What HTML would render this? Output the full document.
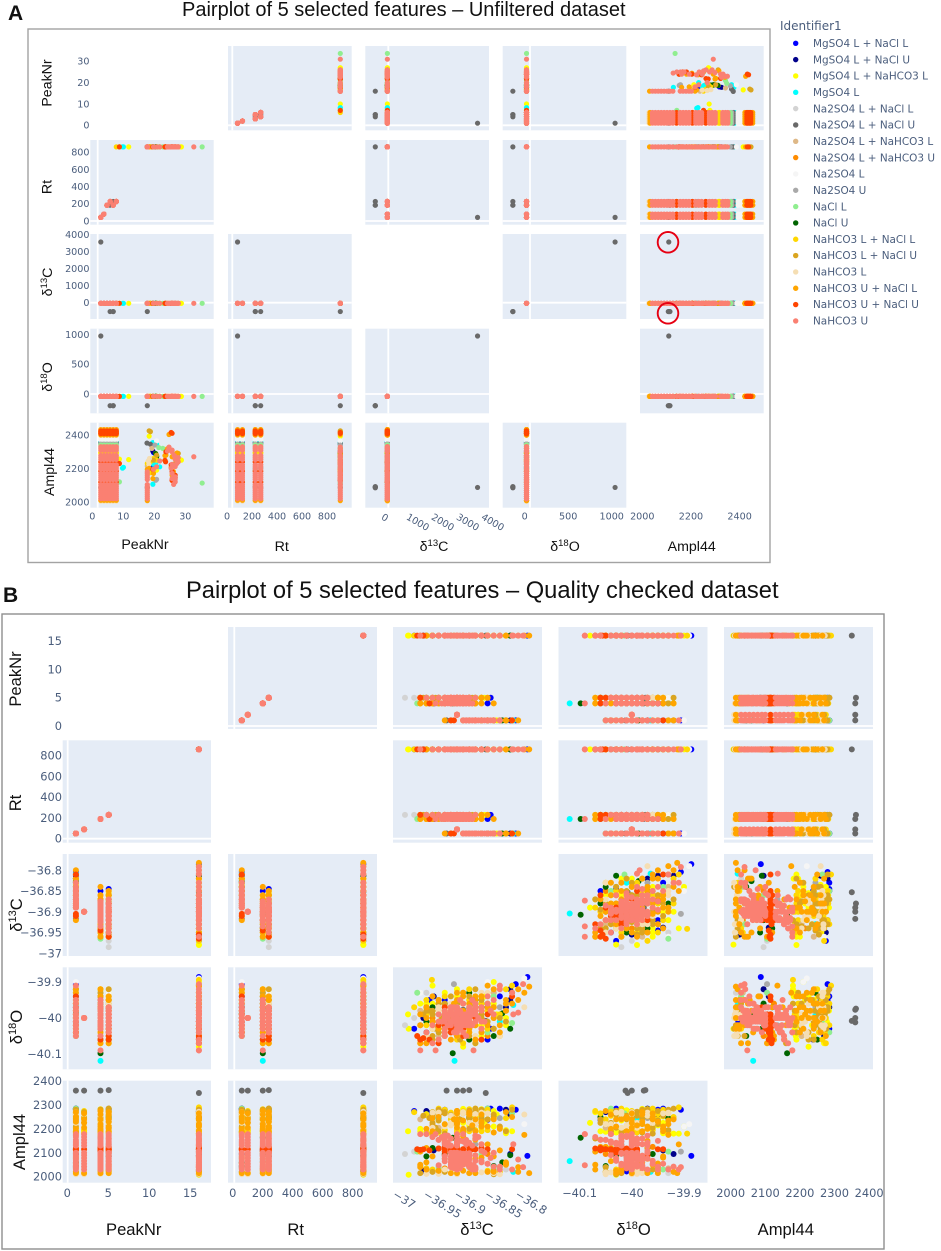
<!DOCTYPE html>
<html lang="en">
<head>
<meta charset="utf-8">
<title>Pairplots of 5 selected features</title>
<style>
html,body{margin:0;padding:0;background:#fff}
svg{display:block}
.ttl{font-family:"Liberation Sans",sans-serif;fill:#111}
.axt{font-family:"Liberation Sans",sans-serif;fill:#111;text-anchor:middle}
.tick{font-family:"DejaVu Sans",sans-serif;fill:#4a5d7c}
.leg{font-family:"DejaVu Sans",sans-serif;fill:#4a5d7c}
</style>
</head>
<body>
<svg id="chart" xmlns="http://www.w3.org/2000/svg" width="941" height="1251" viewBox="0 0 941 1251">
<rect width="941" height="1251" fill="#fff"/>
<text class="ttl" x="8" y="20" font-size="21" font-weight="bold">A</text>
<text class="ttl" x="182" y="16" font-size="20">Pairplot of 5 selected features – Unfiltered dataset</text>
<rect x="28" y="29" width="742" height="533.5" fill="#fff" stroke="#a3a3a3" stroke-width="1.4"/>
<text class="ttl" x="3" y="602" font-size="21" font-weight="bold">B</text>
<text class="ttl" x="186" y="598" font-size="23.7">Pairplot of 5 selected features – Quality checked dataset</text>
<rect x="2" y="614" width="882" height="635" fill="#fff" stroke="#8f8f8f" stroke-width="1.4"/>
<g id="gA"></g>
<g id="gB"></g>
<g font-size="14.2">
<text class="axt" transform="translate(51.5,83) rotate(-90)">PeakNr</text>
<text class="axt" transform="translate(51.5,187) rotate(-90)">Rt</text>
<text class="axt" transform="translate(52,282) rotate(-90)">δ<tspan dy="-5" font-size="9.5">13</tspan><tspan dy="5">C</tspan></text>
<text class="axt" transform="translate(52,377) rotate(-90)">δ<tspan dy="-5" font-size="9.5">18</tspan><tspan dy="5">O</tspan></text>
<text class="axt" transform="translate(54,472) rotate(-90)">Ampl44</text>
</g>
<g font-size="14.2">
<text class="axt" x="145" y="549">PeakNr</text>
<text class="axt" x="281.7" y="551">Rt</text>
<text class="axt" x="434" y="551">δ<tspan dy="-5" font-size="9.5">13</tspan><tspan dy="5">C</tspan></text>
<text class="axt" x="565" y="551">δ<tspan dy="-5" font-size="9.5">18</tspan><tspan dy="5">O</tspan></text>
<text class="axt" x="691.7" y="551">Ampl44</text>
</g>
<g font-size="16.6">
<text class="axt" transform="translate(21,679) rotate(-90)">PeakNr</text>
<text class="axt" transform="translate(21,803) rotate(-90)">Rt</text>
<text class="axt" transform="translate(22,915) rotate(-90)">δ<tspan dy="-6" font-size="11">13</tspan><tspan dy="6">C</tspan></text>
<text class="axt" transform="translate(22,1027) rotate(-90)">δ<tspan dy="-6" font-size="11">18</tspan><tspan dy="6">O</tspan></text>
<text class="axt" transform="translate(25,1142) rotate(-90)">Ampl44</text>
</g>
<g font-size="16.6">
<text class="axt" x="133.7" y="1235">PeakNr</text>
<text class="axt" x="295.7" y="1235">Rt</text>
<text class="axt" x="477" y="1235">δ<tspan dy="-6" font-size="11">13</tspan><tspan dy="6">C</tspan></text>
<text class="axt" x="633.6" y="1235">δ<tspan dy="-6" font-size="11">18</tspan><tspan dy="6">O</tspan></text>
<text class="axt" x="785.8" y="1235">Ampl44</text>
</g>
<g id="legend"></g>
<circle cx="668" cy="242.3" r="10.3" fill="none" stroke="#e60012" stroke-width="1.9"/>
<circle cx="668" cy="313.3" r="10.3" fill="none" stroke="#e60012" stroke-width="1.9"/>
</svg>
<script>
/* ---------- legend categories ---------- */
const seriesNames = ["MgSO4 L + NaCl L","MgSO4 L + NaCl U","MgSO4 L + NaHCO3 L","MgSO4 L","Na2SO4 L + NaCl L","Na2SO4 L + NaCl U","Na2SO4 L + NaHCO3 L","Na2SO4 L + NaHCO3 U","Na2SO4 L","Na2SO4 U","NaCl L","NaCl U","NaHCO3 L + NaCl L","NaHCO3 L + NaCl U","NaHCO3 L","NaHCO3 U + NaCl L","NaHCO3 U + NaCl U","NaHCO3 U"];
const seriesColors = ["#0000ff","#00008b","#ffff00","#00ffff","#d3d3d3","#696969","#deb887","#ff8c00","#f5f5f5","#a9a9a9","#90ee90","#006400","#ffd700","#daa520","#f5deb3","#ffa500","#ff4500","#fa8072"];

/* ---------- panel A values (unfiltered) ---------- */
const aNormalD13C = -37;
const aNormalD18O = -40;
const aBandPeakNr = [1,2,3,5,4,6];
const aBandRt = [42,81,184,184,227,227];
const aBandSalmon = [2020,2032,2044,2056,2068,2080,2092,2104,2134,2146,2158,2170,2198,2210,2222,2254,2266,2278,2309,2320,2330];
const aBandRed = [2119,2184,2239,2408,2416,2424];
const aBandOrange = [2010,2400,2420,2432];
const aBandDarkOrange = [2410];
const aBandYellow = [2291];
const aBandGold = [2296];
const aBandGreen = [2340];
const aBandDimGray = [2352];
const aBandDarkGray = [2346];
const aBandCyan = [2358];
const aBandWhite = [2372,2385];
const aBandWheat = [2006];
const aPeak16Salmon = [2020,2032,2044,2056,2068,2080,2092,2104,2134,2146,2158,2170,2180];
const aPeak16Orange = [2008,2195];
/* peak number, retention time, Ampl44 */
const aScatterSalmon = [[31,864,2270],[24,864,2140],[24,864,2171],[23.7,864,2201],[24.7,864,2277],[25,864,2255],[26,864,2240],[25.5,864,2230],[26,864,2265],[25,864,2212],[23,864,2318],[22.5,864,2304],[24,864,2300],[25,864,2120],[24.5,864,2105],[25,864,2135],[18,864,2195],[19,864,2210],[20,864,2245],[24,864,2310],[23,864,2328],[24,864,2225],[25,864,2150]];
const aScatterRed = [[24,864,2129],[24,864,2182],[23.7,864,2222],[21.7,864,2249],[23.7,864,2415],[24,864,2410],[7,864,2230],[25,864,2160],[25,864,2145],[22,864,2300],[17.8,864,2195],[21.9,864,2240],[24,864,2130]];
const aScatterOrange = [[24,864,2160],[24.4,864,2182],[23.7,864,2208],[25.6,864,2293],[23,864,2403],[21.7,864,2277],[22.5,864,2318],[17.8,864,2140],[18,864,2171],[16.6,864,2201],[24,864,2270],[22,864,2280]];
const aScatterYellow = [[26.8,864,2252],[10,864,2253],[7,864,2256],[16.6,864,2393],[18.7,864,2290],[27,864,2250],[19,864,2190]];
const aScatterGold = [[16,864,2230],[17,864,2240],[18,864,2260],[19,864,2250],[20,864,2245],[6,864,2250],[17,864,2175]];
const aScatterGoldenrod = [[17,864,2420],[16.6,864,2425],[26,864,2290],[25,864,2230],[18,864,2250],[19,864,2280]];
const aScatterCyan = [[17.8,864,2106],[18.7,864,2232],[8,864,2202],[8.3,864,2207],[19,864,2345],[17.8,864,2355],[3,184,2200],[4,227,2205],[18,864,2225],[20,864,2210]];
const aScatterBlue = [[17.8,864,2208],[18,864,2295]];
const aScatterNavy = [[17.8,864,2304]];
const aScatterDarkGreen = [[18.7,864,2267],[18.7,864,2289],[19,864,2270],[19,864,2275],[18.9,864,2260]];
const aScatterGreen = [[33.7,864,2113],[7,864,2120],[19.7,864,2325],[21,864,2320],[6,227,2120],[5,184,2190]];
const aScatterDimGray = [[15.9,864,2352],[17,864,2345]];
const aScatterTan = [[16.6,864,2239],[17,864,2250],[17.5,864,2320],[16,864,2215]];
const aScatterDarkGray = [[18.7,864,2130],[19,864,2135],[18.5,864,2340]];
const aScatterWhite = [[19,864,2365]];
const aScatterWheat = [[16.3,864,2245],[16.5,864,2225],[16.7,864,2260]];
/* peak, rt, d13C, d18O, Ampl44 for the dim-gray outliers */
const aOutliers = [[1,42,3570,978,2087],[4,184,-520,-197,2090],[5,227,-520,-197,2085],[16,864,-520,-197,2087],[5,184,-520,-197,2092]];

/* ---------- panel B values (quality checked): peak, d13C, d18O, Ampl44 ---------- */
const bRtPeaks = [1,2,4,5,16];
const bRtValues = [50,90,190,230,860];
const bBlue = [[16,-36.785,-39.886,2087],[1,-36.804,-39.906,2280],[16,-36.97,-40.03,2275],[4,-36.945,-39.95,2265],[5,-36.845,-40.03,2285],[16,-36.94,-40.01,2022],[4,-36.85,-40.06,2238],[1,-36.83,-39.94,2285],[5,-36.92,-39.95,2280],[16,-36.86,-39.96,2272]];
const bNavy = [[16,-36.955,-40,2025],[1,-36.813,-39.92,2095],[4,-36.938,-39.94,2110],[16,-36.813,-39.95,2260],[5,-36.9,-40.05,2270],[1,-36.82,-39.97,2280],[16,-36.95,-40.04,2275],[16,-36.87,-39.95,2272],[1,-36.85,-39.97,2285]];
const bYellow = [[16,-36.979,-40.03,2008],[16,-36.98,-39.99,2190],[16,-36.94,-39.91,2180],[4,-36.96,-39.96,2200],[5,-36.855,-39.94,2225],[1,-36.81,-39.93,2190],[16,-36.84,-39.9,2210],[4,-36.87,-40.07,2270],[5,-36.88,-39.95,2215],[1,-36.86,-40.05,2205],[16,-36.86,-39.97,2282],[4,-36.93,-40.02,2235],[5,-36.92,-39.93,2270],[16,-36.89,-40.08,2225],[1,-36.835,-39.99,2260],[4,-36.9,-39.92,2180],[5,-36.96,-40.06,2190],[16,-36.82,-40.02,2195],[16,-36.93,-40.03,2185],[4,-36.94,-39.96,2270],[5,-36.86,-40.02,2275],[1,-36.84,-39.96,2245],[16,-36.84,-39.93,2275],[4,-36.89,-40.05,2188],[5,-36.9,-39.94,2182],[1,-36.82,-40,2182],[16,-36.95,-39.96,2262],[4,-36.92,-40.01,2278],[5,-36.89,-39.98,2284],[1,-36.86,-40.02,2270],[16,-36.87,-39.94,2252]];
const bCyan = [[4,-36.904,-40.119,2065],[1,-36.808,-39.964,2020],[5,-36.86,-40,2250],[4,-36.93,-39.99,2245],[16,-36.91,-40.04,2120],[5,-36.93,-40.02,2245],[1,-36.83,-40.01,2040]];
const bLightGray = [[5,-36.985,-40.02,2095],[5,-36.97,-40,2105],[16,-36.82,-39.96,2030],[4,-36.95,-39.93,2015]];
const bDimGray = [[1,-36.917,-40.012,2360],[2,-36.9,-40,2360],[4,-36.89,-39.977,2360],[5,-36.88,-39.974,2362],[16,-36.853,-40.008,2350]];
const bTan = [[5,-36.96,-39.98,2240],[4,-36.93,-40.05,2205],[1,-36.84,-39.93,2035],[16,-36.88,-40.02,2245]];
const bDarkOrange = [[16,-36.9,-39.96,2125],[4,-36.92,-40.01,2035],[5,-36.94,-40,2215],[16,-36.85,-40.05,2095]];
const bWhite = [[16,-36.79,-39.89,2220],[5,-36.96,-39.93,2270],[1,-36.85,-39.9,2210]];
const bDarkGray = [[16,-36.905,-39.906,2105],[5,-36.87,-40.02,2135],[4,-36.9,-39.98,2030],[16,-36.83,-39.97,2245]];
const bLightGreen = [[16,-36.81,-40.014,2265],[4,-36.965,-39.93,2105],[5,-36.86,-39.96,2095],[1,-36.85,-40.04,2285],[16,-36.84,-39.94,2030],[4,-36.93,-39.98,2040]];
const bDarkGreen = [[4,-36.907,-40.098,2163],[1,-36.826,-39.987,2060],[16,-36.813,-40.03,2090],[5,-36.95,-40.01,2085],[16,-36.94,-39.97,2120],[1,-36.84,-40.05,2045],[4,-36.92,-39.96,2095],[5,-36.88,-40.06,2250],[16,-36.88,-39.93,2245]];
const bGold = [[16,-36.941,-39.894,2180],[16,-36.81,-39.91,2290],[4,-36.95,-39.99,2185],[5,-36.93,-39.96,2285],[1,-36.88,-40.04,2190],[16,-36.86,-39.95,2240],[4,-36.88,-39.92,2250],[5,-36.89,-40.07,2275],[1,-36.82,-39.92,2245],[16,-36.92,-40.02,2195],[4,-36.9,-40.06,2265],[5,-36.86,-40,2190],[1,-36.85,-39.98,2280],[16,-36.83,-40.05,2020],[4,-36.94,-40.03,2025],[5,-36.95,-39.95,2035],[16,-36.97,-39.97,2270],[16,-36.94,-39.99,2265],[16,-36.9,-40.05,2240],[16,-36.87,-40.02,2285],[16,-36.85,-39.96,2195],[4,-36.92,-39.94,2280],[4,-36.87,-39.99,2195],[5,-36.9,-40.01,2255],[5,-36.87,-39.96,2250],[1,-36.86,-39.96,2255],[1,-36.83,-39.99,2205],[16,-36.89,-39.96,2270],[4,-36.91,-40,2240],[16,-36.91,-39.98,2268],[4,-36.95,-40.02,2258],[5,-36.92,-40.04,2272],[1,-36.88,-39.95,2262],[16,-36.86,-40.04,2255],[4,-36.88,-39.97,2282],[16,-36.94,-40.03,2030],[5,-36.85,-40.03,2025]];
const bGoldenrod = [[16,-36.94,-40.06,2225],[4,-36.945,-39.98,2245],[5,-36.92,-39.99,2265],[1,-36.87,-39.95,2275],[16,-36.86,-40,2245],[4,-36.905,-40.04,2225],[5,-36.875,-39.96,2205],[1,-36.84,-40.03,2260],[16,-36.91,-39.94,2255],[4,-36.925,-40,2270],[5,-36.895,-40.06,2240],[1,-36.81,-39.93,2280],[16,-36.89,-40.02,2265],[4,-36.89,-39.93,2195],[5,-36.935,-40.03,2205],[1,-36.86,-39.99,2225],[16,-36.84,-40.03,2010],[4,-36.96,-40.02,2015],[5,-36.87,-39.92,2285],[16,-36.87,-40.07,2160],[4,-36.86,-39.97,2280],[5,-36.955,-39.99,2255],[16,-36.93,-39.95,2235],[1,-36.82,-40.01,2190],[16,-36.93,-39.98,2280],[16,-36.9,-40.03,2275],[16,-36.87,-39.97,2265],[16,-36.85,-40.01,2240],[16,-36.94,-40.01,2255],[16,-36.88,-39.94,2200],[16,-36.92,-39.96,2180],[4,-36.94,-39.99,2270],[4,-36.9,-39.96,2260],[4,-36.88,-40.01,2250],[4,-36.87,-39.95,2220],[4,-36.93,-40.04,2190],[5,-36.9,-39.97,2275],[5,-36.88,-40.02,2245],[5,-36.86,-39.95,2230],[5,-36.94,-39.98,2185],[1,-36.88,-39.98,2270],[1,-36.85,-39.96,2240],[1,-36.83,-40,2210],[1,-36.89,-40.02,2185],[16,-36.92,-40.03,2270],[16,-36.88,-40,2258],[4,-36.93,-39.96,2262],[4,-36.88,-40.03,2276],[5,-36.91,-40,2258],[5,-36.87,-39.99,2272],[1,-36.86,-40,2266],[1,-36.84,-39.97,2252],[16,-36.95,-39.98,2030],[16,-36.84,-40,2025],[4,-36.92,-40.03,2020],[5,-36.9,-39.96,2030],[16,-36.88,-40.05,2040],[5,-36.94,-40.05,2020]];
const bWheat = [[16,-36.79,-39.97,2260],[1,-36.83,-40.05,2010],[4,-36.95,-40.05,2012],[5,-36.93,-39.98,2015],[16,-36.93,-39.99,2012],[1,-36.87,-39.96,2225],[4,-36.9,-39.99,2205],[5,-36.89,-39.94,2265],[16,-36.86,-39.93,2268],[4,-36.91,-40.04,2220],[5,-36.92,-40.01,2210],[1,-36.85,-39.93,2265],[16,-36.91,-40.01,2215],[4,-36.87,-39.98,2262],[5,-36.87,-40.05,2220],[16,-36.94,-40.02,2205],[16,-36.9,-39.97,2262],[16,-36.87,-40,2225],[4,-36.93,-39.97,2268],[5,-36.91,-39.96,2225],[5,-36.94,-40.03,2268],[1,-36.87,-40.02,2262],[4,-36.88,-39.99,2225],[16,-36.92,-39.99,2030],[16,-36.9,-40.02,2272],[4,-36.91,-39.97,2255],[5,-36.88,-39.96,2262],[1,-36.89,-40,2270],[16,-36.84,-39.99,2015],[4,-36.86,-40.04,2018],[5,-36.9,-40.05,2018]];
const bOrange = [[16,-36.782,-39.913,2015],[16,-36.79,-39.93,2175],[16,-36.8,-39.95,2040],[16,-36.82,-39.98,2060],[16,-36.83,-40.02,2110],[16,-36.85,-39.91,2135],[16,-36.87,-40.06,2155],[16,-36.9,-39.93,2220],[16,-36.93,-40.01,2250],[16,-36.95,-40.07,2030],[1,-36.8,-39.92,2020],[1,-36.81,-39.96,2250],[1,-36.83,-40.04,2200],[1,-36.86,-39.98,2230],[1,-36.91,-40.04,2120],[1,-36.92,-40.03,2075],[4,-36.84,-39.92,2240],[4,-36.86,-39.94,2210],[4,-36.88,-40.04,2260],[4,-36.91,-39.97,2015],[4,-36.94,-40.01,2190],[4,-36.96,-40.07,2105],[5,-36.86,-39.98,2260],[5,-36.88,-40.03,2015],[5,-36.9,-39.95,2230],[5,-36.92,-40.05,2110],[5,-36.95,-39.97,2200],[5,-36.96,-40.07,2050],[4,-36.87,-40,2030],[16,-36.89,-39.98,2190],[16,-36.89,-40.02,2025],[16,-36.905,-39.96,2240],[16,-36.875,-39.99,2215],[16,-36.92,-40.05,2125],[16,-36.84,-39.97,2020],[16,-36.94,-39.94,2085],[16,-36.86,-40.03,2210],[16,-36.88,-39.96,2265],[1,-36.87,-39.95,2015],[1,-36.89,-39.93,2235],[1,-36.84,-40,2185],[1,-36.82,-39.98,2270],[1,-36.85,-40.02,2020],[4,-36.89,-39.94,2200],[4,-36.92,-39.98,2220],[4,-36.9,-40.05,2275],[4,-36.93,-40.03,2025],[4,-36.87,-40.02,2240],[4,-36.95,-39.97,2120],[5,-36.87,-39.94,2190],[5,-36.9,-40.03,2240],[5,-36.93,-39.95,2025],[5,-36.88,-39.98,2270],[5,-36.91,-40.06,2125],[5,-36.94,-40.01,2245],[5,-36.85,-39.97,2210],[16,-36.96,-40.02,2040],[16,-36.82,-39.96,2050],[16,-36.86,-39.94,2080],[4,-36.95,-40,2060],[4,-36.87,-39.97,2075],[5,-36.96,-39.99,2045],[5,-36.86,-40.04,2065],[1,-36.82,-39.95,2055],[1,-36.84,-39.99,2085],[16,-36.92,-39.97,2150],[4,-36.89,-40.01,2170],[5,-36.91,-40.02,2160]];
const bRed = [[16,-36.965,-40.05,2115],[16,-36.955,-40.056,2115],[16,-36.93,-40.07,2118],[16,-36.91,-40.03,2112],[16,-36.88,-40.01,2115],[16,-36.86,-40.06,2120],[1,-36.81,-39.94,2115],[1,-36.905,-40.02,2118],[1,-36.91,-40.04,2110],[1,-36.85,-39.99,2115],[4,-36.875,-39.95,2115],[4,-36.945,-40.06,2110],[4,-36.91,-40.01,2118],[4,-36.89,-40.03,2115],[5,-36.96,-40.06,2112],[5,-36.93,-40.02,2118],[5,-36.9,-39.99,2115],[5,-36.89,-40.05,2115],[16,-36.9,-40.02,2130],[4,-36.92,-39.97,2090],[5,-36.91,-40.01,2100],[16,-36.9,-40.01,2115],[16,-36.89,-40.03,2100],[4,-36.9,-40.02,2115],[4,-36.92,-40.02,2125],[5,-36.92,-40.04,2115],[5,-36.88,-40.02,2125],[1,-36.87,-40,2115],[16,-36.92,-39.99,2105],[4,-36.9,-39.99,2105],[5,-36.9,-40.03,2105]];
const bSalmon = [[1,-36.83,-39.91,2030],[1,-36.84,-39.95,2042],[1,-36.85,-39.96,2054],[1,-36.86,-40.03,2066],[1,-36.845,-39.98,2078],[1,-36.87,-39.99,2090],[1,-36.855,-40.01,2100],[1,-36.875,-40.02,2130],[1,-36.88,-39.97,2142],[1,-36.885,-40.05,2154],[1,-36.865,-40,2166],[1,-36.89,-40.04,2178],
[4,-36.875,-39.95,2030],[4,-36.88,-39.98,2042],[4,-36.885,-40.01,2054],[4,-36.89,-39.96,2066],[4,-36.895,-40.03,2078],[4,-36.9,-40,2090],[4,-36.905,-39.97,2100],[4,-36.91,-40.02,2130],[4,-36.915,-39.99,2142],[4,-36.92,-40.05,2154],[4,-36.925,-40.01,2166],[4,-36.935,-40.09,2178],[4,-36.895,-39.99,2072],[4,-36.905,-40.01,2036],[4,-36.89,-40.02,2148],
[5,-36.87,-39.97,2030],[5,-36.88,-39.99,2042],[5,-36.89,-40.02,2054],[5,-36.895,-39.98,2066],[5,-36.9,-40.01,2078],[5,-36.905,-40.04,2090],[5,-36.91,-39.97,2100],[5,-36.915,-40,2130],[5,-36.92,-40.03,2142],[5,-36.93,-39.99,2154],[5,-36.94,-40.02,2166],[5,-36.95,-40.04,2178],[5,-36.9,-39.99,2048],[5,-36.885,-40,2136],[5,-36.91,-40.01,2060],
[16,-36.81,-39.93,2030],[16,-36.83,-39.92,2042],[16,-36.85,-39.94,2054],[16,-36.87,-39.96,2066],[16,-36.88,-39.98,2078],[16,-36.89,-40,2090],[16,-36.9,-40.02,2100],[16,-36.91,-39.97,2130],[16,-36.92,-40.04,2142],[16,-36.93,-40.06,2154],[16,-36.94,-40.07,2166],[16,-36.96,-40.09,2178],[16,-36.84,-39.99,2100],[16,-36.86,-40.01,2060],[16,-36.895,-39.95,2150],[16,-36.792,-39.906,2040],[16,-36.8,-39.985,2072],[16,-36.808,-39.99,2136],[16,-36.873,-40.09,2048],[16,-36.9,-39.99,2084],
[4,-36.9,-39.98,2036],[4,-36.895,-40.02,2048],[4,-36.905,-40,2060],[4,-36.91,-39.99,2084],[4,-36.885,-39.99,2096],[4,-36.9,-40.03,2136],[4,-36.92,-40,2160],[5,-36.895,-40,2036],[5,-36.905,-39.99,2072],[5,-36.88,-40.01,2084],[5,-36.89,-39.99,2096],[5,-36.9,-40.02,2148],[5,-36.91,-39.98,2160],[5,-36.92,-40.01,2172],[16,-36.9,-40,2036],[16,-36.895,-39.98,2048],[16,-36.885,-40.01,2060],[16,-36.91,-40.01,2072],[16,-36.905,-39.99,2084],[16,-36.88,-40.02,2096],[16,-36.92,-39.99,2136],[16,-36.9,-40.04,2148],[16,-36.87,-39.99,2160],[16,-36.915,-40.02,2172],[16,-36.93,-40.01,2048],[16,-36.86,-39.97,2108],[1,-36.87,-40.01,2036],[1,-36.875,-39.99,2048],[1,-36.88,-40,2072],[1,-36.885,-40.02,2096],[1,-36.86,-39.98,2136],[1,-36.89,-40,2148],[1,-36.87,-39.97,2172],
[4,-36.91,-40.01,2044],[4,-36.89,-39.99,2050],[4,-36.9,-40.01,2062],[4,-36.885,-40,2074],[4,-36.92,-39.98,2086],[4,-36.88,-40.02,2098],[5,-36.9,-40,2040],[5,-36.91,-39.99,2052],[5,-36.89,-40.01,2064],[5,-36.92,-40,2076],[5,-36.88,-39.98,2088],[5,-36.895,-40.02,2098],[16,-36.91,-39.98,2040],[16,-36.89,-40.01,2052],[16,-36.92,-40,2064],[16,-36.9,-39.97,2076],[16,-36.88,-40,2088],[16,-36.875,-39.98,2044],[16,-36.9,-40.03,2070],[1,-36.87,-39.98,2040],[1,-36.88,-40.01,2058],[1,-36.885,-39.99,2082]];
/* Ampl44 of the peak-2 samples, which all share one isotope reading */
const bPeak2D13C = -36.9;
const bPeak2D18O = -40;
const bPeak2Salmon = [2030,2042,2054,2066,2078,2090,2100,2130,2142,2154,2166,2178];
const bPeak2Red = [2115];
const bPeak2Orange = [2015,2240,2205,2225,2265];
const bPeak2Gold = [2186,2250,2195,2275];
const bPeak2Goldenrod = [2228,2270,2245];
const bPeak2Wheat = [2010,2212,2262,2235,2020];
const bPeak2Yellow = [2195,2182];

/* ---------- tick labels ---------- */
const aPeakXTicks = [0,10,20,30];
const aPeakYTicks = [0,10,20,30];
const aRtTicks = [0,200,400,600,800];
const aD13Ticks = [0,1000,2000,3000,4000];
const aD18XTicks = [0,500,1000];
const aD18YTicks = [0,500,1000];
const aAmplXTicks = [2000,2200,2400];
const aAmplYTicks = [2000,2200,2400];
const bPeakXTicks = [0,5,10,15];
const bPeakYTicks = [0,5,10,15];
const bRtTicks = [0,200,400,600,800];
const bD13Ticks = [-37,-36.95,-36.9,-36.85,-36.8];
const bD18Ticks = [-40.1,-40,-39.9];
const bAmplTicks = [2000,2100,2200,2300,2400];

/* ---------- helpers ---------- */
const SVGNS = "http://www.w3.org/2000/svg";
function mk(tag, attrs){
  const e = document.createElementNS(SVGNS, tag);
  for (const k in attrs) e.setAttribute(k, attrs[k]);
  return e;
}
function linear(refValue, refPixel, pxPerUnit){
  return v => refPixel + (v - refValue) * pxPerUnit;
}
function fmt(v){ return String(v).replace("-", "\u2212"); }

/* ---------- assemble panel A records ---------- */
const aRecords = [];
function addBand(series, ampls){
  aBandPeakNr.forEach((p, i) => ampls.forEach(v => aRecords.push({s:series, peak:p, rt:aBandRt[i], d13:aNormalD13C, d18:aNormalD18O, amp:v})));
}
function addPeak16(series, ampls){
  ampls.forEach(v => aRecords.push({s:series, peak:16, rt:864, d13:aNormalD13C, d18:aNormalD18O, amp:v}));
}
function addScatter(series, rows){
  rows.forEach(r => aRecords.push({s:series, peak:r[0], rt:r[1], d13:aNormalD13C, d18:aNormalD18O, amp:r[2]}));
}
addBand(17, aBandSalmon); addBand(16, aBandRed); addBand(15, aBandOrange); addBand(7, aBandDarkOrange);
addBand(2, aBandYellow); addBand(12, aBandGold); addBand(10, aBandGreen); addBand(5, aBandDimGray);
addBand(9, aBandDarkGray); addBand(3, aBandCyan); addBand(8, aBandWhite); addBand(14, aBandWheat);
addPeak16(17, aPeak16Salmon); addPeak16(15, aPeak16Orange);
addScatter(17, aScatterSalmon); addScatter(16, aScatterRed); addScatter(15, aScatterOrange); addScatter(2, aScatterYellow);
addScatter(12, aScatterGold); addScatter(13, aScatterGoldenrod); addScatter(3, aScatterCyan); addScatter(0, aScatterBlue);
addScatter(1, aScatterNavy); addScatter(11, aScatterDarkGreen); addScatter(10, aScatterGreen); addScatter(5, aScatterDimGray);
addScatter(6, aScatterTan); addScatter(9, aScatterDarkGray); addScatter(8, aScatterWhite); addScatter(14, aScatterWheat);
aOutliers.forEach(r => aRecords.push({s:5, peak:r[0], rt:r[1], d13:r[2], d18:r[3], amp:r[4]}));

/* ---------- assemble panel B records ---------- */
const bRecords = [];
function addB(series, rows){
  rows.forEach(r => bRecords.push({s:series, peak:r[0], rt:bRtValues[bRtPeaks.indexOf(r[0])], d13:r[1], d18:r[2], amp:r[3]}));
}
function addBPeak2(series, ampls){
  ampls.forEach(v => bRecords.push({s:series, peak:2, rt:bRtValues[bRtPeaks.indexOf(2)], d13:bPeak2D13C, d18:bPeak2D18O, amp:v}));
}
[bBlue,bNavy,bYellow,bCyan,bLightGray,bDimGray,bTan,bDarkOrange,bWhite,bDarkGray,bLightGreen,bDarkGreen,bGold,bGoldenrod,bWheat,bOrange,bRed,bSalmon].forEach((rows, i) => addB(i, rows));
addBPeak2(17, bPeak2Salmon); addBPeak2(16, bPeak2Red); addBPeak2(15, bPeak2Orange); addBPeak2(12, bPeak2Gold);
addBPeak2(13, bPeak2Goldenrod); addBPeak2(14, bPeak2Wheat); addBPeak2(2, bPeak2Yellow);

/* ---------- grid drawing ---------- */
const FEATURES = ["peak","rt","d13","d18","amp"];
function drawGrid(host, cfg){
  const recs = cfg.records.slice().sort((a, b) => a.s - b.s);
  cfg.rows.forEach((row, ri) => {
    cfg.cols.forEach((col, ci) => {
      if (ri === ci) return;
      const bg = mk("rect", {x:col.x0, y:row.y0, width:col.x1-col.x0, height:row.y1-row.y0, fill:"#e5ecf6"});
      
      
      host.appendChild(bg);
      const zx = col.scale(0), zy = row.scale(0);
      if (zx > col.x0 && zx < col.x1){
        const l = mk("line", {x1:zx, x2:zx, y1:row.y0, y2:row.y1, stroke:"#fff", "stroke-width":1.8});
        
        
        host.appendChild(l);
      }
      if (zy > row.y0 && zy < row.y1){
        const l = mk("line", {x1:col.x0, x2:col.x1, y1:zy, y2:zy, stroke:"#fff", "stroke-width":1.8});
        
        
        host.appendChild(l);
      }
      const fx = FEATURES[ci], fy = FEATURES[ri];
      recs.forEach(d => {
        const c = mk("circle", {cx:col.scale(d[fx]).toFixed(2), cy:row.scale(d[fy]).toFixed(2), r:cfg.radius, fill:seriesColors[d.s]});
        
        
        host.appendChild(c);
      });
    });
    row.ticks.forEach(v => {
      const t = mk("text", {class:"tick", x:cfg.yTickX, y:row.scale(v), dy:".35em", "text-anchor":"end", "font-size":cfg.tickSize});
      
      
      t.textContent = fmt(v);
      host.appendChild(t);
    });
  });
  cfg.cols.forEach(col => {
    col.ticks.forEach(v => {
      const px = col.scale(v) + col.labelDx;
      const attrs = col.rotate
        ? {class:"tick", transform:"translate("+px+","+cfg.xTickY+") rotate("+col.rotate+")", dy:".35em", "text-anchor":"start", "font-size":cfg.tickSize}
        : {class:"tick", x:px, y:cfg.xTickY, dy:".35em", "text-anchor":"middle", "font-size":cfg.tickSize};
      const t = mk("text", attrs);
      
      
      t.textContent = fmt(v);
      host.appendChild(t);
    });
  });
}

drawGrid(document.getElementById("gA"), {
  records: aRecords, radius: 2.6, tickSize: 9.6, yTickX: 89.5, xTickY: 516,
  cols: [
    {x0:90.3,  x1:213.7, scale:linear(0,97.7,3.1),    ticks:aPeakXTicks, labelDx:-5.4},
    {x0:228,   x1:351.7, scale:linear(0,232.3,0.125), ticks:aRtTicks,    labelDx:-5.3},
    {x0:365.3, x1:489,   scale:linear(0,388.3,0.025), ticks:aD13Ticks,   labelDx:-6, rotate:30},
    {x0:502.7, x1:626.3, scale:linear(0,530,0.087),   ticks:aD18XTicks,  labelDx:-5.3},
    {x0:640,   x1:763.7, scale:linear(2000,647.6,0.2433), ticks:aAmplXTicks, labelDx:-5.3}
  ],
  rows: [
    {y0:46,    y1:130.3, scale:linear(0,125.3,-2.133), ticks:aPeakYTicks},
    {y0:140,   y1:224.7, scale:linear(0,221,-0.0858),  ticks:aRtTicks},
    {y0:234,   y1:319,   scale:linear(0,302.7,-0.017), ticks:aD13Ticks},
    {y0:328.7, y1:413.3, scale:linear(0,394,-0.0593),  ticks:aD18YTicks},
    {y0:422.7, y1:507.7, scale:linear(2000,502,-0.1675), ticks:aAmplYTicks}
  ]
});

drawGrid(document.getElementById("gB"), {
  records: bRecords, radius: 3, tickSize: 11.4, yTickX: 62, xTickY: 1193,
  cols: [
    {x0:62.7,  x1:211,   scale:linear(0,67.7,8.2),    ticks:bPeakXTicks, labelDx:-0.5},
    {x0:228,   x1:377,   scale:linear(0,234.3,0.15),  ticks:bRtTicks,    labelDx:-1.6},
    {x0:393,   x1:542,   scale:linear(-37,395.8,612), ticks:bD13Ticks,   labelDx:-1.8, rotate:32},
    {x0:558.5, x1:707.5, scale:linear(-40,631.8,522), ticks:bD18Ticks,   labelDx:0},
    {x0:724,   x1:873,   scale:linear(2000,730.7,0.346), ticks:bAmplTicks, labelDx:0}
  ],
  rows: [
    {y0:627,    y1:729,    scale:linear(0,726,-5.65),       ticks:bPeakYTicks},
    {y0:740.3,  y1:842.7,  scale:linear(0,838.7,-0.1038),   ticks:bRtTicks},
    {y0:854,    y1:956,    scale:linear(-36.8,870.3,-415),  ticks:bD13Ticks},
    {y0:967.3,  y1:1069.3, scale:linear(-40,1018,-360),     ticks:bD18Ticks},
    {y0:1080.7, y1:1182.7, scale:linear(2000,1176.7,-0.239), ticks:bAmplTicks}
  ]
});

/* ---------- legend ---------- */
(function(){
  const g = document.getElementById("legend");
  const title = mk("text", {class:"leg", x:780, y:30, "font-size":12});
  
  
  title.textContent = "Identifier1";
  g.appendChild(title);
  seriesNames.forEach((name, i) => {
    const y = 43.3 + i * 16.33;
    const item = mk("g", {});
    
    
    const dot = mk("circle", {cx:795.7, cy:y, r:2.7, fill:seriesColors[i]});
    
    
    const t = mk("text", {class:"leg", x:813, y:y, dy:".35em", "font-size":10.45});
    
    
    t.textContent = name;
    item.appendChild(dot);
    item.appendChild(t);
    g.appendChild(item);
  });
})();
</script>
</body>
</html>
